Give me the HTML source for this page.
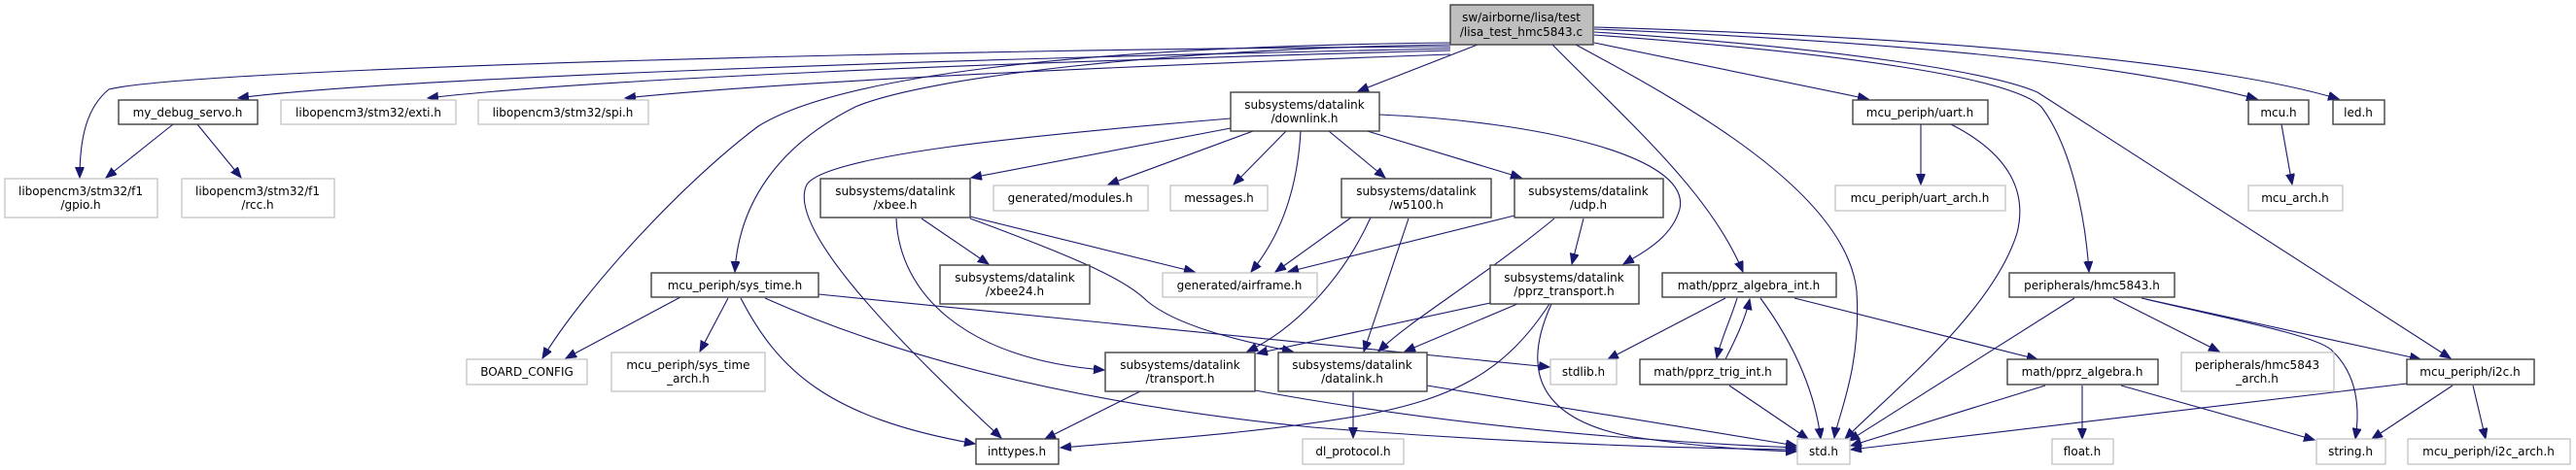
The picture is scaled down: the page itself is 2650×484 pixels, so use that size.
<!DOCTYPE html>
<html><head><meta charset="utf-8"><style>
html,body{margin:0;padding:0;background:#fff;}
svg{display:block;}
text{font-family:"DejaVu Sans","Liberation Sans",sans-serif;font-size:12px;fill:#000;}
.g{fill:#fff;stroke:#bfbfbf;stroke-width:1.2;}
.b{fill:#fff;stroke:#404040;stroke-width:1.4;}
.r{fill:#bfbfbf;stroke:#404040;stroke-width:1.4;}
path.e{fill:none;stroke:#191970;stroke-width:1.1;}
</style></head><body>
<svg width="2650" height="484" viewBox="0 0 2650 484" xmlns="http://www.w3.org/2000/svg">
<defs><marker id="a" markerUnits="userSpaceOnUse" markerWidth="12" markerHeight="10" refX="11" refY="4.5" orient="auto"><path d="M0,0 L11,4.5 L0,9 z" fill="#191970" stroke="#191970"/></marker></defs>
<g marker-end="url(#a)">
<path class="e" d="M1492,48 C1000,50 200,70 112,92 C90,110 82,140 82,183"/>
<path class="e" d="M1492,50 C1000,60 400,80 245,101"/>
<path class="e" d="M1492,52 C1000,65 600,82 440,101"/>
<path class="e" d="M1492,56 C1100,70 800,85 643,101"/>
<path class="e" d="M1492,44 C1100,48 860,80 780,130 C700,190 600,300 558,369"/>
<path class="e" d="M1492,46 C1200,50 950,80 880,110 C800,150 760,210 756,280"/>
<path class="e" d="M1520,46 L1397,94"/>
<path class="e" d="M1597,46 C1680,130 1760,200 1793,280"/>
<path class="e" d="M1621,46 C1740,110 1900,200 1910,300 C1915,380 1890,430 1887,451"/>
<path class="e" d="M1640,44 L1922,102"/>
<path class="e" d="M1640,30 C2000,45 2200,70 2322,102"/>
<path class="e" d="M1640,28 C2050,40 2300,70 2406,102"/>
<path class="e" d="M1640,36 C1900,55 2070,80 2100,110 C2130,150 2145,220 2149,280"/>
<path class="e" d="M1640,33 C1900,50 2050,75 2096,95 L2521,369"/>
<path class="e" d="M178,128 L109,183"/>
<path class="e" d="M203,128 L248,183"/>
<path class="e" d="M1266,132 L999,183"/>
<path class="e" d="M1289,135 L1140,190"/>
<path class="e" d="M1323,135 L1269,190"/>
<path class="e" d="M1338,135 C1335,190 1320,240 1287,280"/>
<path class="e" d="M1367,135 L1425,183"/>
<path class="e" d="M1400,133 L1565,183"/>
<path class="e" d="M1419,118 C1580,125 1740,160 1728,215 C1720,245 1690,260 1670,272"/>
<path class="e" d="M1266,122 C1050,140 850,160 830,190 C810,230 900,330 1030,451"/>
<path class="e" d="M948,225 L1017,272"/>
<path class="e" d="M998,223 L1229,280"/>
<path class="e" d="M922,225 C925,300 990,370 1136,381"/>
<path class="e" d="M998,225 C1120,270 1160,290 1180,310 C1210,335 1270,350 1330,362"/>
<path class="e" d="M1390,224 L1312,280"/>
<path class="e" d="M1410,224 C1380,290 1330,340 1283,362"/>
<path class="e" d="M1449,225 L1403,362"/>
<path class="e" d="M1558,222 L1325,280"/>
<path class="e" d="M1629,225 L1617,272"/>
<path class="e" d="M1599,225 C1520,290 1450,330 1418,362"/>
<path class="e" d="M1533,312 L1293,364"/>
<path class="e" d="M1561,313 L1445,362"/>
<path class="e" d="M1594,313 C1550,380 1500,410 1400,428 C1300,445 1200,452 1091,461"/>
<path class="e" d="M1596,313 C1570,370 1570,430 1680,450 C1760,462 1820,464 1848,465"/>
<path class="e" d="M700,306 L582,369"/>
<path class="e" d="M749,307 L720,362"/>
<path class="e" d="M842,303 L1594,378"/>
<path class="e" d="M762,307 C800,380 850,430 1003,457"/>
<path class="e" d="M787,307 C950,380 1150,420 1350,440 C1600,460 1780,462 1848,463"/>
<path class="e" d="M1173,403 L1075,452"/>
<path class="e" d="M1291,402 C1500,440 1700,455 1848,461"/>
<path class="e" d="M1392,403 L1392,451"/>
<path class="e" d="M1468,397 L1848,459"/>
<path class="e" d="M1775,307 L1654,370"/>
<path class="e" d="M1787,307 C1780,330 1770,350 1766,369"/>
<path class="e" d="M1775,370 C1785,350 1795,330 1800,308"/>
<path class="e" d="M1811,307 C1850,360 1868,410 1873,452"/>
<path class="e" d="M1846,307 L2096,370"/>
<path class="e" d="M1779,397 L1860,452"/>
<path class="e" d="M1976,128 L1976,190"/>
<path class="e" d="M2007,128 C2070,160 2085,200 2075,240 C2050,320 1950,400 1898,452"/>
<path class="e" d="M2134,307 L1902,454"/>
<path class="e" d="M2174,307 L2283,362"/>
<path class="e" d="M2203,307 L2490,370"/>
<path class="e" d="M2207,308 C2300,330 2380,345 2398,360 C2425,385 2428,420 2423,452"/>
<path class="e" d="M2104,397 L1904,459"/>
<path class="e" d="M2142,397 L2142,452"/>
<path class="e" d="M2182,397 L2381,453"/>
<path class="e" d="M2476,395 L1904,463"/>
<path class="e" d="M2523,397 L2440,452"/>
<path class="e" d="M2544,397 L2557,452"/>
<path class="e" d="M2347,128 L2358,190"/>
</g>
<!-- nodes -->
<rect class="r" x="1492" y="5" width="147" height="41"/><text x="1565" y="22" text-anchor="middle">sw/airborne/lisa/test</text><text x="1565" y="37" text-anchor="middle">/lisa_test_hmc5843.c</text>
<rect class="b" x="122" y="103" width="143" height="25"/><text x="193" y="120" text-anchor="middle">my_debug_servo.h</text>
<rect class="g" x="289" y="103" width="180" height="25"/><text x="379" y="120" text-anchor="middle">libopencm3/stm32/exti.h</text>
<rect class="g" x="492" y="103" width="175" height="25"/><text x="579" y="120" text-anchor="middle">libopencm3/stm32/spi.h</text>
<rect class="g" x="5" y="184" width="157" height="40"/><text x="83" y="201" text-anchor="middle">libopencm3/stm32/f1</text><text x="83" y="215" text-anchor="middle">/gpio.h</text>
<rect class="g" x="187" y="184" width="157" height="40"/><text x="265" y="201" text-anchor="middle">libopencm3/stm32/f1</text><text x="265" y="215" text-anchor="middle">/rcc.h</text>
<rect class="g" x="480" y="370" width="124" height="26"/><text x="542" y="387" text-anchor="middle">BOARD_CONFIG</text>
<rect class="b" x="670" y="281" width="172" height="25"/><text x="756" y="298" text-anchor="middle">mcu_periph/sys_time.h</text>
<rect class="g" x="629" y="363" width="158" height="40"/><text x="708" y="380" text-anchor="middle">mcu_periph/sys_time</text><text x="708" y="394" text-anchor="middle">_arch.h</text>
<rect class="b" x="1266" y="95" width="153" height="40"/><text x="1342" y="112" text-anchor="middle">subsystems/datalink</text><text x="1342" y="126" text-anchor="middle">/downlink.h</text>
<rect class="b" x="844" y="184" width="154" height="40"/><text x="921" y="201" text-anchor="middle">subsystems/datalink</text><text x="921" y="215" text-anchor="middle">/xbee.h</text>
<rect class="g" x="1022" y="191" width="159" height="26"/><text x="1101" y="208" text-anchor="middle">generated/modules.h</text>
<rect class="g" x="1204" y="191" width="100" height="26"/><text x="1254" y="208" text-anchor="middle">messages.h</text>
<rect class="b" x="1380" y="184" width="154" height="40"/><text x="1457" y="201" text-anchor="middle">subsystems/datalink</text><text x="1457" y="215" text-anchor="middle">/w5100.h</text>
<rect class="b" x="1558" y="184" width="153" height="40"/><text x="1634" y="201" text-anchor="middle">subsystems/datalink</text><text x="1634" y="215" text-anchor="middle">/udp.h</text>
<rect class="b" x="967" y="273" width="154" height="40"/><text x="1044" y="290" text-anchor="middle">subsystems/datalink</text><text x="1044" y="304" text-anchor="middle">/xbee24.h</text>
<rect class="g" x="1196" y="281" width="159" height="25"/><text x="1275" y="298" text-anchor="middle">generated/airframe.h</text>
<rect class="b" x="1533" y="273" width="153" height="40"/><text x="1609" y="290" text-anchor="middle">subsystems/datalink</text><text x="1609" y="304" text-anchor="middle">/pprz_transport.h</text>
<rect class="b" x="1710" y="281" width="179" height="25"/><text x="1799" y="298" text-anchor="middle">math/pprz_algebra_int.h</text>
<rect class="b" x="1137" y="363" width="154" height="40"/><text x="1214" y="380" text-anchor="middle">subsystems/datalink</text><text x="1214" y="394" text-anchor="middle">/transport.h</text>
<rect class="b" x="1315" y="363" width="153" height="40"/><text x="1391" y="380" text-anchor="middle">subsystems/datalink</text><text x="1391" y="394" text-anchor="middle">/datalink.h</text>
<rect class="g" x="1595" y="370" width="68" height="26"/><text x="1629" y="387" text-anchor="middle">stdlib.h</text>
<rect class="b" x="1687" y="370" width="151" height="26"/><text x="1762" y="387" text-anchor="middle">math/pprz_trig_int.h</text>
<rect class="b" x="1004" y="452" width="85" height="26"/><text x="1046" y="469" text-anchor="middle">inttypes.h</text>
<rect class="g" x="1340" y="452" width="104" height="26"/><text x="1392" y="469" text-anchor="middle">dl_protocol.h</text>
<rect class="g" x="1849" y="452" width="54" height="26"/><text x="1876" y="469" text-anchor="middle">std.h</text>
<rect class="b" x="1906" y="103" width="139" height="25"/><text x="1975" y="120" text-anchor="middle">mcu_periph/uart.h</text>
<rect class="g" x="1888" y="191" width="175" height="26"/><text x="1975" y="208" text-anchor="middle">mcu_periph/uart_arch.h</text>
<rect class="b" x="2067" y="281" width="170" height="25"/><text x="2152" y="298" text-anchor="middle">peripherals/hmc5843.h</text>
<rect class="b" x="2065" y="370" width="155" height="26"/><text x="2142" y="387" text-anchor="middle">math/pprz_algebra.h</text>
<rect class="g" x="2244" y="363" width="157" height="40"/><text x="2322" y="380" text-anchor="middle">peripherals/hmc5843</text><text x="2322" y="394" text-anchor="middle">_arch.h</text>
<rect class="b" x="2476" y="370" width="131" height="26"/><text x="2541" y="387" text-anchor="middle">mcu_periph/i2c.h</text>
<rect class="g" x="2111" y="452" width="63" height="26"/><text x="2142" y="469" text-anchor="middle">float.h</text>
<rect class="g" x="2383" y="452" width="71" height="26"/><text x="2418" y="469" text-anchor="middle">string.h</text>
<rect class="g" x="2477" y="452" width="167" height="26"/><text x="2560" y="469" text-anchor="middle">mcu_periph/i2c_arch.h</text>
<rect class="b" x="2313" y="103" width="62" height="25"/><text x="2344" y="120" text-anchor="middle">mcu.h</text>
<rect class="b" x="2400" y="103" width="53" height="25"/><text x="2426" y="120" text-anchor="middle">led.h</text>
<rect class="g" x="2313" y="191" width="97" height="26"/><text x="2361" y="208" text-anchor="middle">mcu_arch.h</text>
</svg>
</body></html>
